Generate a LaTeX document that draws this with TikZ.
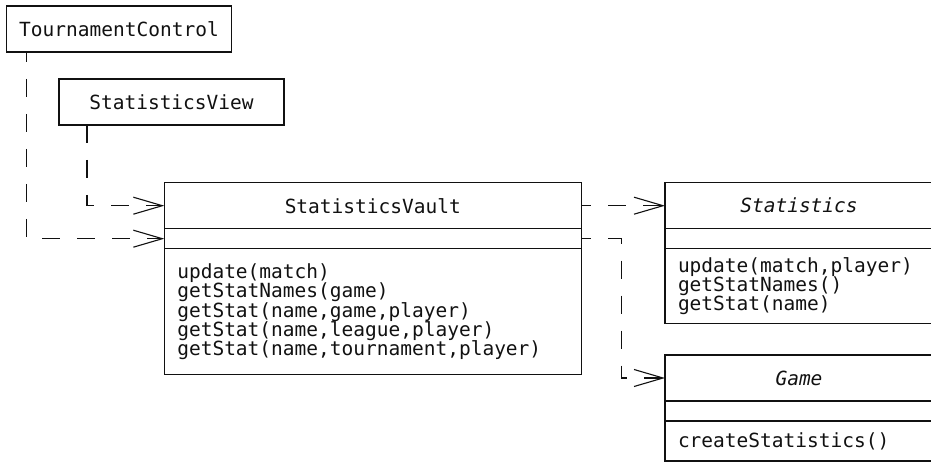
\documentclass[tikz,border=0pt]{standalone}
\usepackage{fontspec}
\setmonofont{DejaVu Sans Mono}
\usepackage{xcolor}
\usepackage{tikz}
\usetikzlibrary{arrows.meta,positioning}
\definecolor{ink}{HTML}{111111}
\newcommand{\umlfont}{\ttfamily\fontsize{19.5pt}{19.3pt}\selectfont}
\tikzset{
  umlbox/.style={draw=ink,line width=1.1pt,outer sep=0pt,inner xsep=13pt,inner ysep=0pt,font=\umlfont,text=ink},
  namepart/.style={umlbox,minimum height=46pt,minimum width=#1},
  attrpart/.style={umlbox,minimum height=20pt,minimum width=#1},
  oppart/.style={umlbox,text width=#1,align=left},
  dep/.style={draw=ink,line width=1.1pt,dash pattern=on 18pt off 17pt,-{Straight Barb[length=29pt,width=17pt]}},
}

\begin{document}
\begin{tikzpicture}[x=1pt,y=-1pt]
    \useasboundingbox (0,0) rectangle (931,462);
    \clip (0,0) rectangle (931,462);
    \node[namepart=224pt] (tc) at (119,29) {TournamentControl};
    \node[namepart=225pt] (sv) at (171.5,102) {StatisticsView};
    \node[namepart=417pt] (vaultname) at (372.8,205.7) {StatisticsVault};
    \node[attrpart=417pt,below=0pt of vaultname] (vaultattr) {};
    \node[oppart=391pt,minimum height=126pt,below=0pt of vaultattr] (vaultops) {update(match)\\getStatNames(game)\\getStat(name,game,player)\\getStat(name,league,player)\\getStat(name,tournament,player)};
    \node[namepart=268pt,font=\umlfont\itshape] (statname) at (799,205.7) {Statistics};
    \node[attrpart=268pt,below=0pt of statname] (statattr) {};
    \node[oppart=242pt,minimum height=75pt,below=0pt of statattr] (statops) {update(match,player)\\getStatNames()\\getStat(name)};
    \node[namepart=268pt,font=\umlfont\itshape] (gamename) at (799,378) {Game};
    \node[attrpart=268pt,below=0pt of gamename] (gameattr) {};
    \node[oppart=242pt,minimum height=40pt,below=0pt of gameattr] (gameops) {createStatistics()};
    \draw[dep,dash phase=8pt] ([xshift=20.5pt]tc.south west) |- (vaultattr.west);
    \draw[dep] ([xshift=28pt]sv.south west) |- (vaultname.west);
    \draw[dep,dash phase=8pt] (vaultname.east) -- (statname.west);
    \draw[dep,dash phase=8pt] (vaultattr.east) -- ++(40,0) |- (gamename.west);
  \end{tikzpicture}
\end{document}
